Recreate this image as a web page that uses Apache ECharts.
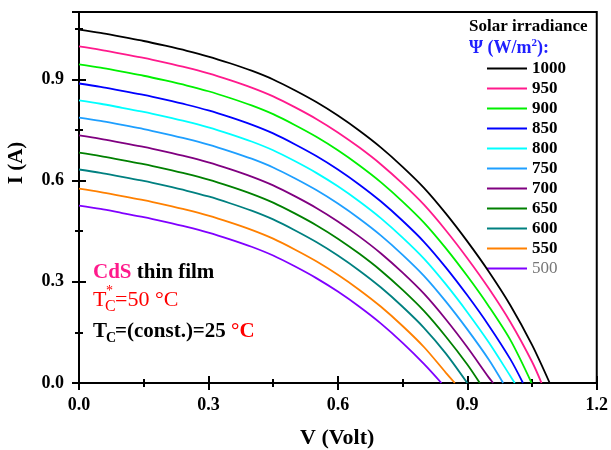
<!DOCTYPE html>
<html>
<head>
<meta charset="utf-8">
<script src="https://cdn.jsdelivr.net/npm/echarts@6/dist/echarts.min.js"></script>
<style>
  html, body { margin: 0; padding: 0; background: #fff; }
  #chart { width: 611px; height: 450px; }
</style>
</head>
<body>
<div id="chart"></div>
<script>
// I-V curves of CdS thin film cell for several solar irradiance levels
const voltage = [0, 0.05, 0.1, 0.15, 0.2, 0.25, 0.3, 0.35, 0.4, 0.45, 0.5, 0.55,
                 0.6, 0.65, 0.7, 0.75, 0.8, 0.85, 0.9, 0.95, 1.0, 1.05];
const irradiance = ['1000', '950', '900', '850', '800', '750', '700', '650', '600', '550', '500'];
const colors = ['#000000', '#ff1a8c', '#00f000', '#0000ff', '#00ffff', '#1e9fff',
                '#800080', '#008000', '#008080', '#ff8000', '#8000ff'];
// open circuit voltage of each curve (I = 0)
const vOpen = [1.091, 1.072, 1.049, 1.029, 1.010, 0.983, 0.960, 0.929, 0.900, 0.871, 0.840];

const current1000 = [1.048, 1.038, 1.026, 1.014, 1.000, 0.985, 0.968, 0.948, 0.926, 0.900, 0.868, 0.833,
                     0.793, 0.748, 0.698, 0.641, 0.578, 0.503, 0.420, 0.330, 0.230, 0.113];
const current950 = [0.998, 0.988, 0.976, 0.964, 0.950, 0.935, 0.918, 0.898, 0.876, 0.850, 0.818, 0.783,
                    0.743, 0.698, 0.648, 0.591, 0.528, 0.453, 0.370, 0.280, 0.180, 0.063];
const current900 = [0.945, 0.935, 0.923, 0.911, 0.897, 0.882, 0.865, 0.845, 0.823, 0.797, 0.765, 0.730,
                    0.690, 0.645, 0.595, 0.538, 0.475, 0.400, 0.317, 0.227, 0.127];
const current850 = [0.888, 0.878, 0.866, 0.854, 0.840, 0.825, 0.808, 0.788, 0.766, 0.740, 0.708, 0.673,
                    0.633, 0.588, 0.538, 0.481, 0.418, 0.343, 0.260, 0.170, 0.070];
const current800 = [0.838, 0.828, 0.816, 0.804, 0.790, 0.775, 0.758, 0.738, 0.716, 0.690, 0.658, 0.623,
                    0.583, 0.538, 0.488, 0.431, 0.368, 0.293, 0.210, 0.120, 0.020];
const current750 = [0.787, 0.777, 0.765, 0.753, 0.739, 0.724, 0.707, 0.687, 0.665, 0.639, 0.607, 0.572,
                    0.532, 0.487, 0.437, 0.380, 0.317, 0.242, 0.159, 0.069];
const current700 = [0.734, 0.724, 0.712, 0.700, 0.686, 0.671, 0.654, 0.634, 0.612, 0.586, 0.554, 0.519,
                    0.479, 0.434, 0.384, 0.327, 0.264, 0.189, 0.106, 0.016];
const current650 = [0.683, 0.673, 0.661, 0.649, 0.635, 0.620, 0.603, 0.583, 0.561, 0.535, 0.503, 0.468,
                    0.428, 0.383, 0.333, 0.276, 0.213, 0.138, 0.055];
const current600 = [0.633, 0.623, 0.611, 0.599, 0.585, 0.570, 0.553, 0.533, 0.511, 0.485, 0.453, 0.418,
                    0.378, 0.333, 0.283, 0.226, 0.163, 0.088];
const current550 = [0.576, 0.566, 0.554, 0.542, 0.528, 0.513, 0.496, 0.476, 0.454, 0.428, 0.396, 0.361,
                    0.321, 0.276, 0.226, 0.169, 0.106, 0.031];
const current500 = [0.526, 0.516, 0.504, 0.492, 0.478, 0.463, 0.446, 0.426, 0.404, 0.378, 0.346, 0.311,
                    0.271, 0.226, 0.176, 0.119, 0.056];

const currents = [current1000, current950, current900, current850, current800, current750,
                  current700, current650, current600, current550, current500];

const xTicks = ['0.0', '0.3', '0.6', '0.9', '1.2'];
const yTicks = ['0.0', '0.3', '0.6', '0.9'];

const serif = '"Liberation Serif", "DejaVu Serif", serif';

const series = currents.map((cur, i) => {
    const pts = cur.map((c, k) => [voltage[k], c]);
    pts.push([vOpen[i], 0]);
    return {
        name: irradiance[i],
        type: 'line',
        data: pts,
        smooth: 0.3,
        symbol: 'none',
        lineStyle: { color: colors[i], width: 1.8 },
        itemStyle: { color: colors[i] },
        z: 20 - i
    };
});

const axisCommon = {
    type: 'value',
    axisLine: { show: true, onZero: false, lineStyle: { color: '#000', width: 2 } },
    splitLine: { show: false },
    minorTick: { show: true, splitNumber: 2, length: 4, lineStyle: { color: '#000', width: 2 } }
};

const myChart = echarts.init(document.getElementById('chart'));
myChart.setOption({
    animation: false,
    backgroundColor: '#fff',
    grid: {
        left: 79, right: 14, top: 12, bottom: 67,
        show: true, borderColor: '#000', borderWidth: 2
    },
    xAxis: [
        Object.assign({}, axisCommon, {
            min: 0, max: 1.2, interval: 0.3, position: 'bottom',
            axisTick: { show: true, length: 7, lineStyle: { color: '#000', width: 2 } },
            axisLabel: {
                margin: 13, color: '#000', fontFamily: serif, fontSize: 18, fontWeight: 'bold',
                formatter: v => xTicks[Math.round(v / 0.3)]
            }
        }),
        Object.assign({}, axisCommon, {
            min: 0, max: 1.2, interval: 0.3, position: 'bottom',
            axisTick: { show: true, inside: true, length: 7, lineStyle: { color: '#000', width: 2 } },
            axisLabel: { show: false }
        })
    ],
    yAxis: [
        Object.assign({}, axisCommon, {
            min: 0, max: 1.1, interval: 0.3, position: 'left',
            axisTick: { show: true, length: 7, lineStyle: { color: '#000', width: 2 } },
            axisLabel: {
                margin: 15, color: '#000', fontFamily: serif, fontSize: 18, fontWeight: 'bold',
                showMaxLabel: false,
                formatter: v => yTicks[Math.round(v / 0.3)] || ''
            }
        }),
        Object.assign({}, axisCommon, {
            min: 0, max: 1.1, interval: 0.3, position: 'left',
            axisTick: { show: true, inside: true, length: 7, lineStyle: { color: '#000', width: 2 } },
            axisLabel: { show: false }
        })
    ],
    legend: {
        orient: 'vertical',
        left: 482,
        top: 55,
        icon: 'rect',
        itemWidth: 40,
        itemHeight: 2,
        itemGap: 3,
        selectedMode: false,
        textStyle: { color: '#000', fontFamily: serif, fontSize: 17, fontWeight: 'bold', lineHeight: 15 },
        data: irradiance.map(n => n === '500'
            ? { name: n, textStyle: { color: '#777', fontWeight: 'normal' } }
            : { name: n })
    },
    graphic: [
        {
            type: 'text', left: 300, top: 427,
            style: { text: 'V (Volt)', fontFamily: serif, fontSize: 22, fontWeight: 'bold', fill: '#000' }
        },
        {
            type: 'text', x: 17, y: 163, rotation: Math.PI / 2,
            style: { text: 'I (A)', fontFamily: serif, fontSize: 21, fontWeight: 'bold', fill: '#000',
                     align: 'center', verticalAlign: 'middle' }
        },
        {
            type: 'text', x: 469, y: 27,
            style: { text: 'Solar irradiance', fontFamily: serif, fontSize: 17, fontWeight: 'bold', fill: '#000',
                     verticalAlign: 'middle' }
        },
        {
            type: 'text', x: 469, y: 48,
            style: {
                text: '{a|Ψ (W/m}{s|2}{a|):}',
                verticalAlign: 'middle',
                rich: {
                    a: { fontFamily: serif, fontSize: 18, fontWeight: 'bold', fill: '#2020ff', lineHeight: 20 },
                    s: { fontFamily: serif, fontSize: 11, fontWeight: 'bold', fill: '#2020ff',
                         verticalAlign: 'top', lineHeight: 11 }
                }
            }
        },
        {
            type: 'text', x: 93, y: 273,
            style: {
                text: '{p|CdS}{b| thin film}',
                verticalAlign: 'middle',
                rich: {
                    p: { fontFamily: serif, fontSize: 21, fontWeight: 'bold', fill: '#ff1a8c' },
                    b: { fontFamily: serif, fontSize: 21, fontWeight: 'bold', fill: '#000' }
                }
            }
        },
        {
            type: 'text', x: 93, y: 300,
            style: { text: 'T', fontFamily: serif, fontSize: 22, fill: '#ff0000', verticalAlign: 'middle' }
        },
        {
            type: 'text', x: 106, y: 291,
            style: { text: '*', fontFamily: serif, fontSize: 14, fill: '#ff0000', verticalAlign: 'middle' }
        },
        {
            type: 'text', x: 105, y: 307,
            style: { text: 'C', fontFamily: serif, fontSize: 16, fill: '#ff0000', verticalAlign: 'middle' }
        },
        {
            type: 'text', x: 115, y: 300,
            style: { text: '=50 °C', fontFamily: serif, fontSize: 22, fill: '#ff0000', verticalAlign: 'middle' }
        },
        {
            type: 'text', x: 93, y: 332,
            style: { text: 'T', fontFamily: serif, fontSize: 21, fontWeight: 'bold', fill: '#000', verticalAlign: 'middle' }
        },
        {
            type: 'text', x: 106, y: 338,
            style: { text: 'C', fontFamily: serif, fontSize: 14, fontWeight: 'bold', fill: '#000', verticalAlign: 'middle' }
        },
        {
            type: 'text', x: 115, y: 332,
            style: {
                text: '{k|=(const.)=25 }{r|°C}',
                verticalAlign: 'middle',
                rich: {
                    k: { fontFamily: serif, fontSize: 21, fontWeight: 'bold', fill: '#000' },
                    r: { fontFamily: serif, fontSize: 21, fontWeight: 'bold', fill: '#ff0000' }
                }
            }
        }
    ],
    series: series
});
</script>
</body>
</html>
